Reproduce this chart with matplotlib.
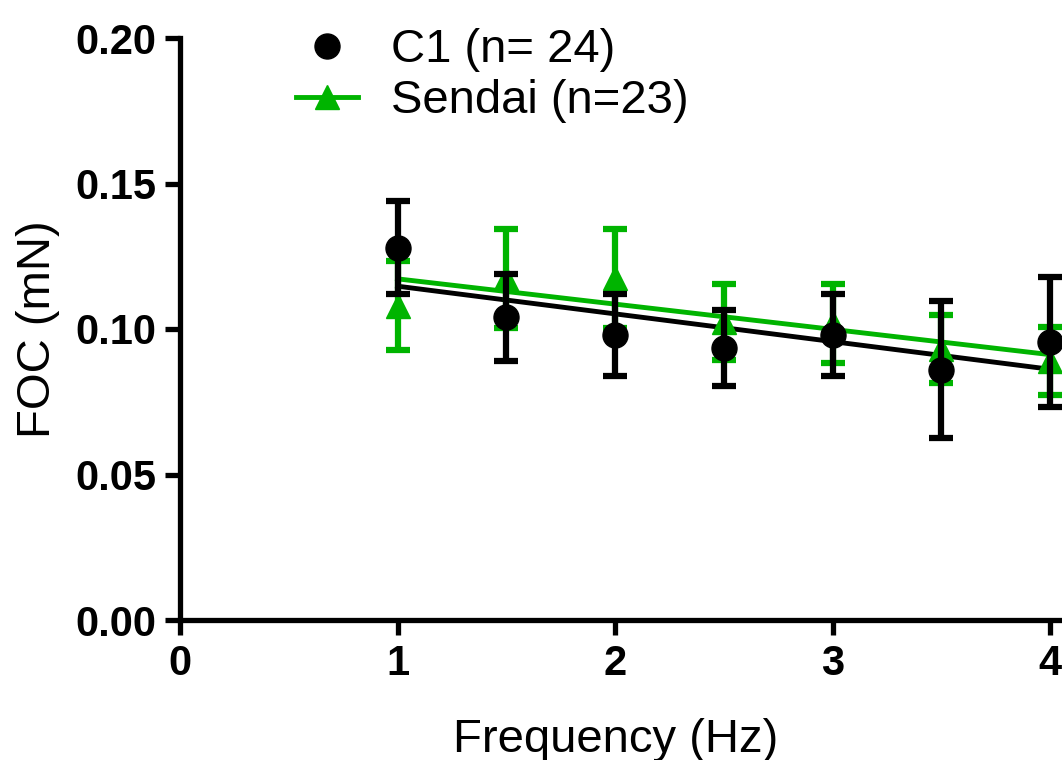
import numpy as np
import matplotlib.pyplot as plt
from matplotlib.lines import Line2D

FREQ = [1.0, 1.5, 2.0, 2.5, 3.0, 3.5, 4.0]
C1_MEAN = [0.128, 0.104, 0.098, 0.0935, 0.098, 0.086, 0.0956]
C1_SEM = [0.016, 0.015, 0.014, 0.013, 0.014, 0.0235, 0.0224]
SENDAI_MEAN = [0.108, 0.1175, 0.1175, 0.1025, 0.102, 0.093, 0.089]
SENDAI_SEM = [0.0153, 0.017, 0.017, 0.013, 0.0136, 0.0117, 0.0117]

BLACK = 'black'
GREEN = '#00b400'

if __name__ == "__main__":
    plt.rcParams['font.family'] = ['Liberation Sans', 'DejaVu Sans']
    fig = plt.figure(figsize=(10.62, 7.6), dpi=100)
    ax = fig.add_axes([180 / 1062, 140 / 760, 4.2 * 217.5 / 1062, 582 / 760])

    x = np.array(FREQ)
    xfit = np.array([1.0, 4.0])
    for mean, col in [(C1_MEAN, BLACK), (SENDAI_MEAN, GREEN)]:
        k, b = np.polyfit(x, mean, 1)
        ax.plot(xfit, k * xfit + b, color=col, linewidth=3.5, zorder=2)

    ax.errorbar(FREQ, SENDAI_MEAN, yerr=SENDAI_SEM, fmt='^', color=GREEN,
                markersize=17, elinewidth=4.5, capsize=8.5, capthick=4.5, zorder=3)
    ax.errorbar(FREQ, C1_MEAN, yerr=C1_SEM, fmt='o', color=BLACK,
                markersize=18, elinewidth=4.5, capsize=8.5, capthick=4.5, zorder=4)

    ax.set_xlim(0, 4.2)
    ax.set_ylim(0, 0.20)
    ax.set_xticks([0, 1, 2, 3, 4])
    ax.set_yticks([0, 0.05, 0.10, 0.15, 0.20])
    ax.set_yticklabels(['0.00', '0.05', '0.10', '0.15', '0.20'])
    for s in ['top', 'right']:
        ax.spines[s].set_visible(False)
    for s in ['left', 'bottom']:
        ax.spines[s].set_linewidth(3.8)
    ax.tick_params(direction='out', length=11, width=3.8, labelsize=30, pad=6)
    for lab in ax.get_xticklabels() + ax.get_yticklabels():
        lab.set_fontweight('bold')

    ax.set_xlabel('Frequency (Hz)', fontsize=34)
    ax.xaxis.set_label_coords(436 / 913.5, -0.168)
    ax.set_ylabel('FOC (mN)', fontsize=34, labelpad=11)

    handles = [
        Line2D([], [], color=BLACK, marker='o', linestyle='none', markersize=18),
        Line2D([], [], color=GREEN, marker='^', linestyle='-', linewidth=3.5, markersize=17),
    ]
    ax.legend(handles, ['C1 (n= 24)', 'Sendai (n=23)'], loc='upper left',
              bbox_to_anchor=(0.081, 1.09), frameon=False, fontsize=34,
              handlelength=1.3, handletextpad=0.7, labelspacing=0.15)

    plt.savefig('out.png', dpi=100)
